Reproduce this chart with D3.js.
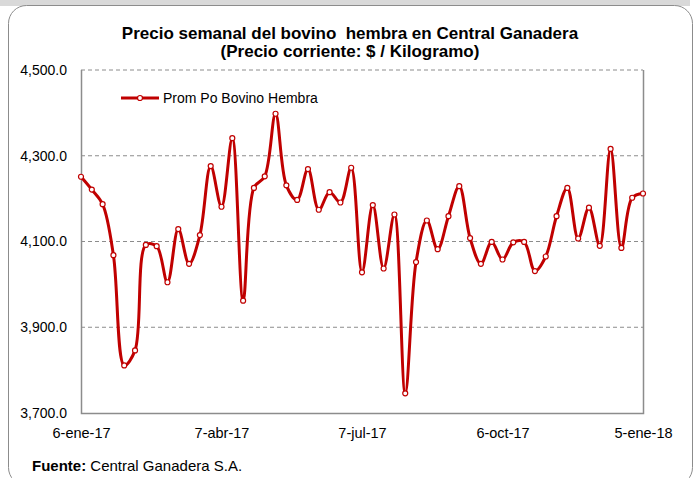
<!DOCTYPE html>
<html>
<head>
<meta charset="utf-8">
<script src="https://cdn.jsdelivr.net/npm/d3@7"></script>
<style>
  body { margin: 0; background: #fff; }
  svg { display: block; font-family: "Liberation Sans", Arial, sans-serif; }
</style>
</head>
<body>
<script>
// weekly prices, 6-ene-17 .. 5-ene-18
let weeks = d3.range(53);
let prices = [4251, 4221, 4187, 4068, 3811, 3846, 4092, 4089, 4005, 4129,
  4048, 4115, 4276, 4181, 4341, 3962, 4225, 4252, 4398, 4231,
  4197, 4269, 4174, 4215, 4191, 4272, 4028, 4185, 4037, 4163,
  3746, 4052, 4149, 4082, 4159, 4229, 4108, 4048, 4099, 4058,
  4098, 4099, 4031, 4065, 4159, 4225, 4107, 4179, 4090, 4316,
  4085, 4202, 4212];
let tickWeeks = [0, 13, 26, 39, 52];
let tickLabels = ["6-ene-17", "7-abr-17", "7-jul-17", "6-oct-17", "5-ene-18"];
let yTicks = [3700, 3900, 4100, 4300, 4500];
let seriesName = "Prom Po Bovino Hembra";

let W = 696, H = 478;
let margin = {top: 70, right: 53, bottom: 65, left: 81},
width = W - margin.left - margin.right,
height = H - margin.top - margin.bottom;

let red = "#c00000";

let svg = d3.select("body").append("svg")
  .attr("width", W)
  .attr("height", H);

// outer frame
svg.append("rect").attr("x", 0).attr("y", 0).attr("width", 690).attr("height", 6).attr("fill", "#d9d9d9");
svg.append("rect")
  .attr("x", 8.5).attr("y", 5.5)
  .attr("width", 684).attr("height", 480)
  .attr("rx", 18)
  .attr("fill", "#fff")
  .attr("stroke", "#8c8c8c")
  .attr("stroke-width", 1);

// title
let title = svg.append("text")
  .attr("text-anchor", "middle")
  .attr("font-family", "'Liberation Sans Narrow', 'Arial Narrow', 'Liberation Sans', Arial, sans-serif")
  .attr("font-weight", "bold")
  .attr("font-size", "17px")
  .attr("fill", "#000");
title.append("tspan").attr("x", 350).attr("y", 39).text("Precio semanal del bovino  hembra en Central Ganadera").attr("xml:space", "preserve");
title.append("tspan").attr("x", 350).attr("y", 57).text("(Precio corriente: $ / Kilogramo)");

let g = svg.append("g")
  .attr("transform", "translate(" + margin.left + "," + margin.top + ")");

// set the ranges
let x = d3.scaleLinear().domain([0, 52]).range([0, width]);
let y = d3.scaleLinear().domain([3700, 4500]).range([height, 0]);

// gridlines
g.selectAll(".grid")
  .data(yTicks.filter(d => d > 3700))
  .enter().append("line")
  .attr("x1", 0).attr("x2", width)
  .attr("y1", d => y(d)).attr("y2", d => y(d))
  .attr("stroke", "#8c8c8c")
  .attr("stroke-dasharray", "4,3");

// plot border (left, bottom, right)
g.append("path")
  .attr("d", "M0.5," + y(4500) + "V" + (height + 0.5) + "H" + (width + 0.5) + "V" + y(4500))
  .attr("fill", "none")
  .attr("stroke", "#8c8c8c")
  .attr("stroke-width", 1.5);

// y axis
let yAxis = g.append("g")
  .call(d3.axisLeft(y).tickValues(yTicks).tickFormat(d3.format(",.1f")).tickSize(0).tickPadding(14));
yAxis.select(".domain").remove();
yAxis.selectAll("text").attr("font-size", "14px").attr("fill", "#000").attr("font-family", "'Liberation Sans', Arial, sans-serif");

// x axis
let xAxis = g.append("g")
  .attr("transform", "translate(0," + height + ")")
  .call(d3.axisBottom(x).tickValues(tickWeeks).tickFormat((d, i) => tickLabels[i]).tickSize(0).tickPadding(15));
xAxis.select(".domain").remove();
xAxis.selectAll("text").attr("font-size", "14.5px").attr("fill", "#000").attr("font-family", "'Liberation Sans', Arial, sans-serif");

// the price line (smoothed like the original)
let valueline = d3.line()
  .curve(d3.curveCatmullRom.alpha(0.5))
  .x((d, i) => x(weeks[i]))
  .y(d => y(d));

g.append("path")
  .datum(prices)
  .attr("fill", "none")
  .attr("stroke", red)
  .attr("stroke-width", 3)
  .attr("d", valueline);

g.selectAll(".dot")
  .data(prices)
  .enter().append("circle")
  .attr("cx", (d, i) => x(weeks[i]))
  .attr("cy", d => y(d))
  .attr("r", 2.5)
  .attr("fill", "#fff")
  .attr("stroke", red)
  .attr("stroke-width", 1.2);

// legend
let leg = svg.append("g").attr("transform", "translate(121,98)");
leg.append("line").attr("x1", 0).attr("x2", 38).attr("stroke", red).attr("stroke-width", 3);
leg.append("circle").attr("cx", 19).attr("r", 2.5).attr("fill", "#fff").attr("stroke", red).attr("stroke-width", 1.2);
leg.append("text").attr("x", 42).attr("y", 5).attr("font-size", "14px").text(seriesName);

// source
let src = svg.append("text").attr("x", 32).attr("y", 471).attr("font-size", "15px");
src.append("tspan").attr("font-weight", "bold").text("Fuente:");
src.append("tspan").text(" Central Ganadera S.A.");
</script>
</body>
</html>
